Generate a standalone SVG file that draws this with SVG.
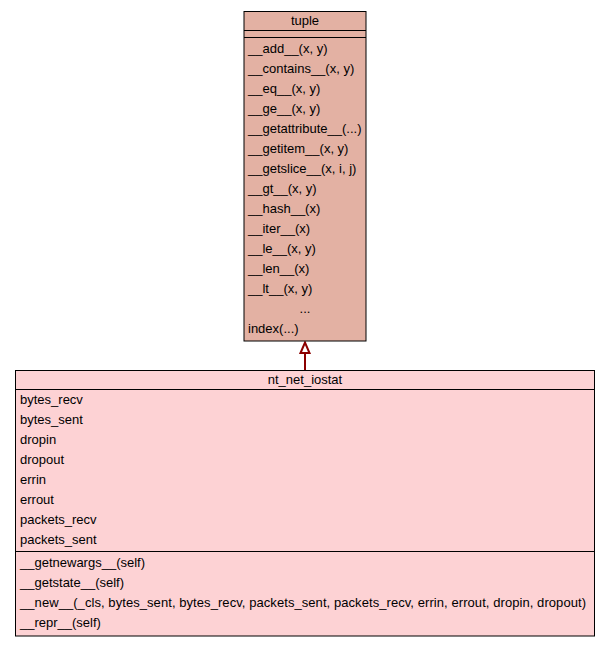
<svg xmlns="http://www.w3.org/2000/svg" width="611" height="645" viewBox="0 0 611 645">
  <style>
    text { font-family: "Liberation Sans", Arial, Helvetica, sans-serif; font-size: 13px; fill: #000000; }
    .c { text-anchor: middle; }
    .box { stroke: #000000; stroke-width: 1; }
    .sep { stroke: #000000; stroke-width: 1; fill: none; }
    .edge { stroke: #8b0000; stroke-width: 2; fill: none; }
    .head { stroke: #8b0000; stroke-width: 2; fill: #ffffff; }
  </style>
  <rect width="611" height="645" fill="#ffffff"/>

  <!-- connectors: generalization nt_net_iostat -> tuple -->
  <g id="edges">
    <path class="edge" d="M305,370 L305,353"/>
    <polygon class="head" points="300.5,353 305,342.5 309.5,353"/>
  </g>

  <!-- base class -->
  <g id="tuple">
    <rect class="box" x="244" y="11.5" width="122" height="329.5" fill="#e3b1a3"/>
    <text class="c" x="305" y="25">tuple</text>
    <line class="sep" x1="244" y1="30.5" x2="366" y2="30.5"/>
    <line class="sep" x1="244" y1="37.5" x2="366" y2="37.5"/>
    <text x="248" y="53">__add__(x, y)</text>
    <text x="248" y="73">__contains__(x, y)</text>
    <text x="248" y="93">__eq__(x, y)</text>
    <text x="248" y="113">__ge__(x, y)</text>
    <text x="248" y="133">__getattribute__(...)</text>
    <text x="248" y="153">__getitem__(x, y)</text>
    <text x="248" y="173">__getslice__(x, i, j)</text>
    <text x="248" y="193">__gt__(x, y)</text>
    <text x="248" y="213">__hash__(x)</text>
    <text x="248" y="233">__iter__(x)</text>
    <text x="248" y="253">__le__(x, y)</text>
    <text x="248" y="273">__len__(x)</text>
    <text x="248" y="293">__lt__(x, y)</text>
    <text class="c" x="305" y="313">...</text>
    <text x="248" y="333">index(...)</text>
  </g>

  <!-- derived class -->
  <g id="nt_net_iostat">
    <rect class="box" x="15.5" y="370.5" width="579" height="265.5" fill="#fdd2d4"/>
    <text class="c" x="305" y="384">nt_net_iostat</text>
    <line class="sep" x1="15.5" y1="389.5" x2="594.5" y2="389.5"/>
    <text x="20" y="404">bytes_recv</text>
    <text x="20" y="424">bytes_sent</text>
    <text x="20" y="444">dropin</text>
    <text x="20" y="464">dropout</text>
    <text x="20" y="484">errin</text>
    <text x="20" y="504">errout</text>
    <text x="20" y="524">packets_recv</text>
    <text x="20" y="544">packets_sent</text>
    <line class="sep" x1="15.5" y1="551.5" x2="594.5" y2="551.5"/>
    <text x="20" y="567">__getnewargs__(self)</text>
    <text x="20" y="587">__getstate__(self)</text>
    <text x="20" y="607" textLength="566" lengthAdjust="spacing">__new__(_cls, bytes_sent, bytes_recv, packets_sent, packets_recv, errin, errout, dropin, dropout)</text>
    <text x="20" y="627">__repr__(self)</text>
  </g>
</svg>
